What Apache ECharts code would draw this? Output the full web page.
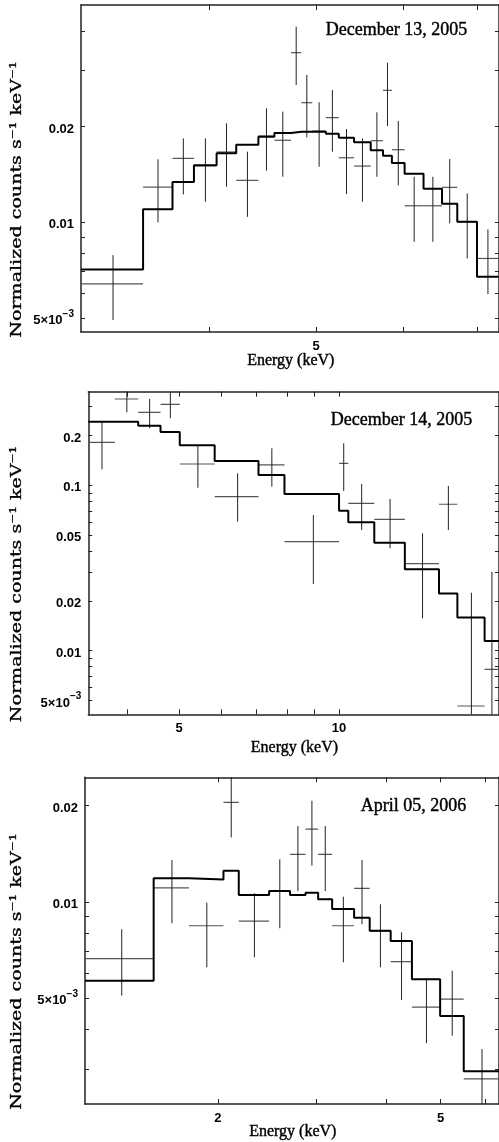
<!DOCTYPE html>
<html><head><meta charset="utf-8">
<script src="https://cdn.jsdelivr.net/npm/echarts@6/dist/echarts.min.js"></script>
<style>html,body{margin:0;padding:0;background:#fff}#c{width:499px;height:1142px}</style>
</head><body><div id="c"></div>
<script>
// ---------- Panel 1 : December 13, 2005 ----------
const p1Title = 'December 13, 2005';
const p1Edges = [3.056,3.480,3.701,3.871,4.059,4.229,4.430,4.581,4.743,4.846,4.959,5.102,5.242,5.412,5.604,5.750,5.858,6.016,6.259,6.506,6.717,7.000,7.324];
const p1Model = [0.00711,0.01099,0.01340,0.01512,0.01649,0.01756,0.01860,0.01910,0.01929,0.01929,0.01930,0.01901,0.01847,0.01786,0.01686,0.01621,0.01537,0.01422,0.01276,0.01144,0.01004,0.00674];
const p1Val = [0.00641,0.01291,0.0159,0.01507,0.01665,0.01356,0.0187,0.01813,0.0342,0.0238,0.01939,0.02136,0.01597,0.01504,0.01807,0.02603,0.01693,0.01128,0.01128,0.01289,0.01004,0.0077];
const p1Lo  = [0.00493,0.0100,0.01225,0.01161,0.01294,0.01041,0.01454,0.01392,0.02706,0.01852,0.01496,0.01669,0.01228,0.01161,0.01392,0.0201,0.01308,0.00869,0.00869,0.00993,0.0077,0.005945];
const p1Hi  = [0.00789,0.01579,0.01838,0.01838,0.0205,0.01669,0.02285,0.0223,0.0413,0.0291,0.02387,0.02609,0.01967,0.01838,0.0222,0.0318,0.02084,0.01392,0.01392,0.01582,0.01234,0.009505];
const p1XRange = [3.056, 7.33];
const p1YRange = [0.00452, 0.0483];
const p1XTicks = [4,5,6,7];
const p1XLabels = [5];
const p1YTicks = [0.005,0.006,0.007,0.008,0.009,0.01,0.02,0.03,0.04];
const p1YLabels = [0.005,0.01,0.02];

// ---------- Panel 2 : December 14, 2005 ----------
const p2Title = 'December 14, 2005';
const p2Edges = [3.374,3.786,4.189,4.614,5.015,5.834,7.054,7.894,10.00,10.41,11.65,13.30,15.42,16.70,18.79,20.0];
const p2Model = [0.2424,0.2424,0.2293,0.2101,0.1745,0.1403,0.1154,0.0886,0.0702,0.0598,0.0450,0.0311,0.0222,0.0159,0.01145];
const p2Val = [0.182,0.3325,0.2763,0.3088,0.1345,0.0855,0.1327,0.0456,0.1358,0.0778,0.0623,0.0336,0.0768,0.00463,0.00772];
const p2Lo  = [0.125,0.2763,0.2211,0.2542,0.0967,0.0603,0.0981,0.0253,0.0924,0.0537,0.0416,0.0157,0.0537,0,0];
const p2Hi  = [0.2404,0.39,0.3325,0.37,0.1753,0.1182,0.1674,0.0661,0.1795,0.1018,0.0826,0.0513,0.099,0.0224,0.0300];
const p2XRange = [3.374, 20.0];
const p2YRange = [0.004125, 0.368];
const p2XTicks = [4,5,6,7,8,9,10];
const p2XLabels = [5,10];
const p2YTicks = [0.005,0.006,0.007,0.008,0.009,0.01,0.02,0.03,0.04,0.05,0.06,0.07,0.08,0.09,0.1,0.2,0.3];
const p2YLabels = [0.005,0.01,0.02,0.05,0.1,0.2];

// ---------- Panel 3 : April 05, 2006 ----------
const p3Title = 'April 05, 2006';
const p3Edges = [1.158,1.536,1.776,2.047,2.180,2.470,2.692,2.869,3.022,3.201,3.504,3.736,4.073,4.445,4.992,5.501,6.36];
const p3Model = [0.005675,0.01186,0.01177,0.01253,0.01052,0.01082,0.01052,0.01069,0.0102,0.00951,0.00893,0.00813,0.00755,0.00574,0.0044,0.00296];
const p3Val = [0.00665,0.01108,0.00843,0.0205,0.00872,0.01082,0.01409,0.01691,0.01409,0.00843,0.01104,0.00813,0.00651,0.00469,0.00497,0.0028];
const p3Lo  = [0.0051,0.00858,0.00625,0.01592,0.00672,0.00828,0.01082,0.01299,0.01082,0.00648,0.00852,0.00625,0.00494,0.00362,0.00382,0.00213];
const p3Hi  = [0.00822,0.01353,0.00995,0.0251,0.01065,0.0136,0.01728,0.02073,0.01728,0.01039,0.01353,0.00984,0.00804,0.00577,0.0061,0.00347];
const p3XRange = [1.158, 6.36];
const p3YRange = [0.002337, 0.02454];
const p3XTicks = [2,3,4,5,6];
const p3XLabels = [2,5];
const p3YTicks = [0.003,0.004,0.005,0.006,0.007,0.008,0.009,0.01,0.02];
const p3YLabels = [0.005,0.01,0.02];

const xTitle = 'Energy (keV)';
const yTitle = 'Normalized counts s\u207B\u00B9 keV\u207B\u00B9';

// ---------- layout ----------
const grids = [
  {left: 81,   top: 5,     width: 419.5, height: 327},
  {left: 88.3, top: 391.7, width: 412.2, height: 322.6},
  {left: 85,   top: 777.3, width: 415.5, height: 326.7}
];
const titlePos = [[325.7, 30.7],[330.7, 420.7],[360.7, 806]];
const xTitleY = [361, 748, 1132];

const LG = v => Math.log10(v);
const FLOOR = 1e-6;
function fmt(v){
  const r = +v.toPrecision(4);
  if (r < 0.0099) return '{b|' + Math.round(r*1000) + '\u00D710}{s|\u22123}';
  return '{b|' + String(r) + '}';
}
const AX = '#222';
const labelRich = {
  b: {fontFamily:'Liberation Sans', fontSize:13, fontWeight:'bold', color:'#000', lineHeight:18, verticalAlign:'bottom'},
  s: {fontFamily:'Liberation Sans', fontSize:10, fontWeight:'bold', color:'#000', lineHeight:18, verticalAlign:'top'}
};
function xAx(gi, pos, range, ticks, labels){
  return {type:'value', gridIndex: gi, position: pos, min: LG(range[0]), max: LG(range[1]),
    axisLine:{show:true, onZero:false, lineStyle:{color:AX, width:1.5}},
    axisTick:{show:true, inside:true, length:5, customValues: ticks.map(LG), lineStyle:{color:AX, width:1}},
    axisLabel:{show: pos==='bottom', customValues: labels.map(LG), formatter: v => fmt(Math.pow(10, v)),
      margin:3, rich: labelRich},
    splitLine:{show:false}};
}
function yAx(gi, pos, range, ticks, labels){
  return {type:'value', gridIndex: gi, position: pos, min: LG(range[0]), max: LG(range[1]),
    axisLine:{show:true, onZero:false, lineStyle:{color:AX, width:1.5}},
    axisTick:{show:true, inside:true, length:4, customValues: ticks.map(LG), lineStyle:{color:AX, width:1}},
    axisLabel:{show: pos==='left', customValues: labels.map(LG), formatter: v => fmt(Math.pow(10, v)),
      margin:7, rich: labelRich},
    splitLine:{show:false}};
}

const panels = [
  {edges:p1Edges, model:p1Model, val:p1Val, lo:p1Lo, hi:p1Hi, xr:p1XRange, yr:p1YRange, xt:p1XTicks, xl:p1XLabels, yt:p1YTicks, yl:p1YLabels, title:p1Title},
  {edges:p2Edges, model:p2Model, val:p2Val, lo:p2Lo, hi:p2Hi, xr:p2XRange, yr:p2YRange, xt:p2XTicks, xl:p2XLabels, yt:p2YTicks, yl:p2YLabels, title:p2Title},
  {edges:p3Edges, model:p3Model, val:p3Val, lo:p3Lo, hi:p3Hi, xr:p3XRange, yr:p3YRange, xt:p3XTicks, xl:p3XLabels, yt:p3YTicks, yl:p3YLabels, title:p3Title}
];

const xAxis = [], yAxis = [], series = [], graphic = [];
panels.forEach((P, i) => {
  xAxis.push(xAx(i, 'bottom', P.xr, P.xt, P.xl));
  xAxis.push(xAx(i, 'top', P.xr, P.xt, P.xl));
  yAxis.push(yAx(i, 'left', P.yr, P.yt, P.yl));
  yAxis.push(yAx(i, 'right', P.yr, P.yt, P.yl));
  const n = P.model.length;
  const modelPts = P.edges.map((e, k) => [LG(e), LG(P.model[Math.min(k, n-1)])]);
  series.push({type:'line', name:'model', xAxisIndex: 2*i, yAxisIndex: 2*i, data: modelPts, step:'end',
    symbol:'none', clip:true, lineStyle:{color:'#000', width:2}, z:3});
  const rows = P.val.map((v, k) => {
    const e0 = P.edges[k], e1 = P.edges[k+1];
    return [LG(e0), LG(e1), LG(v), LG(Math.max(P.lo[k], FLOOR)), LG(P.hi[k]), LG((e0+e1)/2)];
  });
  series.push({type:'custom', name:'data', xAxisIndex: 2*i, yAxisIndex: 2*i, data: rows, clip:true, z:2,
    encode:{x:[0,1], y:[2,3,4]},
    renderItem: (params, api) => {
      const a = api.coord([api.value(0), api.value(2)]);
      const b = api.coord([api.value(1), api.value(2)]);
      const c = api.coord([api.value(5), api.value(3)]);
      const d = api.coord([api.value(5), api.value(4)]);
      return {type:'group', children:[
        {type:'line', shape:{x1:a[0], y1:a[1], x2:b[0], y2:b[1]}, style:{stroke:'#555', lineWidth:1.2}},
        {type:'line', shape:{x1:c[0], y1:c[1], x2:d[0], y2:d[1]}, style:{stroke:'#222', lineWidth:1}}
      ]};
    }});
  graphic.push({type:'text', x: titlePos[i][0], y: titlePos[i][1],
    style:{text:P.title, fill:'#000', stroke:'#000', lineWidth:0.4, font:'18px "Liberation Serif"', align:'left', verticalAlign:'middle'}});
  const g = grids[i];
  graphic.push({type:'text', x: g.left + g.width/2, y: xTitleY[i],
    style:{text:xTitle, fill:'#000', stroke:'#000', lineWidth:0.4, font:'16px "Liberation Serif"', align:'center', verticalAlign:'middle'}});
  graphic.push({type:'text', x: 17, y: g.top + g.height/2 + 31, rotation: Math.PI/2, scaleX: 1.27,
    style:{text:yTitle, fill:'#000', stroke:'#000', lineWidth:0.3, font:'15px "DejaVu Serif"', align:'center', verticalAlign:'middle'}});
});

const chart = echarts.init(document.getElementById('c'), null, {renderer:'canvas'});
chart.setOption({animation:false, backgroundColor:'#fff', grid: grids, xAxis, yAxis, series, graphic});
</script></body></html>
